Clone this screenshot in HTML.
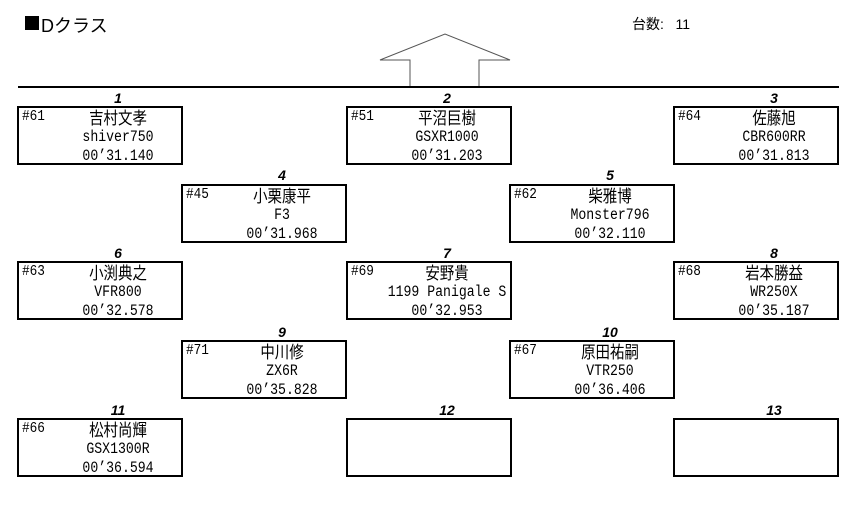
<!DOCTYPE html>
<html><head><meta charset="utf-8"><style>
body{margin:0;width:864px;height:505px;background:#fff;position:relative;overflow:hidden;font-family:"Liberation Mono","Noto Sans CJK JP",monospace;color:#000}
.b{position:absolute;width:162px;height:55px;border:2px solid #000;box-sizing:content-box}
.b .id{position:absolute;left:3px;top:0px;font-size:15px;line-height:18px;transform:scaleX(.85);transform-origin:left center}
.b .c{position:absolute;left:20px;right:-16px;top:0;text-align:center;font-size:15.5px;transform:scaleX(.85);transform-origin:center;white-space:nowrap}
.b .c div{height:19px;line-height:19px;position:relative;top:1px}
.b .c .nm{font-family:"Noto Sans CJK JP",sans-serif;font-size:17px;line-height:19px;top:-1px}
.n{position:absolute;width:166px;text-align:center;font:italic bold 14px "Liberation Sans",sans-serif;line-height:14px}
</style></head><body>
<div style="position:absolute;left:25px;top:16px;width:14px;height:14px;background:#000"></div>
<div style="position:absolute;left:41px;top:12px;font-size:18px;font-family:'Liberation Sans','Noto Sans CJK JP',sans-serif">Dクラス</div>
<div style="position:absolute;left:632px;top:14px;font-size:14px;font-family:'Liberation Sans','Noto Sans CJK JP',sans-serif">台数:&nbsp;&nbsp;&nbsp;11</div>
<svg style="position:absolute;left:0;top:0" width="864" height="505">
<polyline points="410,87 410,60 380,60 445,34 510,60 479,60 479,87" fill="none" stroke="#555" stroke-width="1"/>
<line x1="18" y1="87" x2="839" y2="87" stroke="#000" stroke-width="2"/>
</svg>

<div class="n" style="left:35px;top:91px">1</div>
<div class="b" style="left:17px;top:106px"><div class="id">#61</div><div class="c"><div class="nm">吉村文孝</div><div>shiver750</div><div>00’31.140</div></div></div>
<div class="n" style="left:364px;top:91px">2</div>
<div class="b" style="left:346px;top:106px"><div class="id">#51</div><div class="c"><div class="nm">平沼巨樹</div><div>GSXR1000</div><div>00’31.203</div></div></div>
<div class="n" style="left:691px;top:91px">3</div>
<div class="b" style="left:673px;top:106px"><div class="id">#64</div><div class="c"><div class="nm">佐藤旭</div><div>CBR600RR</div><div>00’31.813</div></div></div>

<div class="n" style="left:199px;top:168px">4</div>
<div class="b" style="left:181px;top:184px"><div class="id">#45</div><div class="c"><div class="nm">小栗康平</div><div>F3</div><div>00’31.968</div></div></div>
<div class="n" style="left:527px;top:168px">5</div>
<div class="b" style="left:509px;top:184px"><div class="id">#62</div><div class="c"><div class="nm">柴雅博</div><div>Monster796</div><div>00’32.110</div></div></div>

<div class="n" style="left:35px;top:246px">6</div>
<div class="b" style="left:17px;top:261px"><div class="id">#63</div><div class="c"><div class="nm">小渕典之</div><div>VFR800</div><div>00’32.578</div></div></div>
<div class="n" style="left:364px;top:246px">7</div>
<div class="b" style="left:346px;top:261px"><div class="id">#69</div><div class="c"><div class="nm">安野貴</div><div>1199 Panigale S</div><div>00’32.953</div></div></div>
<div class="n" style="left:691px;top:246px">8</div>
<div class="b" style="left:673px;top:261px"><div class="id">#68</div><div class="c"><div class="nm">岩本勝益</div><div>WR250X</div><div>00’35.187</div></div></div>

<div class="n" style="left:199px;top:325px">9</div>
<div class="b" style="left:181px;top:340px"><div class="id">#71</div><div class="c"><div class="nm">中川修</div><div>ZX6R</div><div>00’35.828</div></div></div>
<div class="n" style="left:527px;top:325px">10</div>
<div class="b" style="left:509px;top:340px"><div class="id">#67</div><div class="c"><div class="nm">原田祐嗣</div><div>VTR250</div><div>00’36.406</div></div></div>

<div class="n" style="left:35px;top:403px">11</div>
<div class="b" style="left:17px;top:418px"><div class="id">#66</div><div class="c"><div class="nm">松村尚輝</div><div>GSX1300R</div><div>00’36.594</div></div></div>
<div class="n" style="left:364px;top:403px">12</div>
<div class="b" style="left:346px;top:418px"></div>
<div class="n" style="left:691px;top:403px">13</div>
<div class="b" style="left:673px;top:418px"></div>
</body></html>
